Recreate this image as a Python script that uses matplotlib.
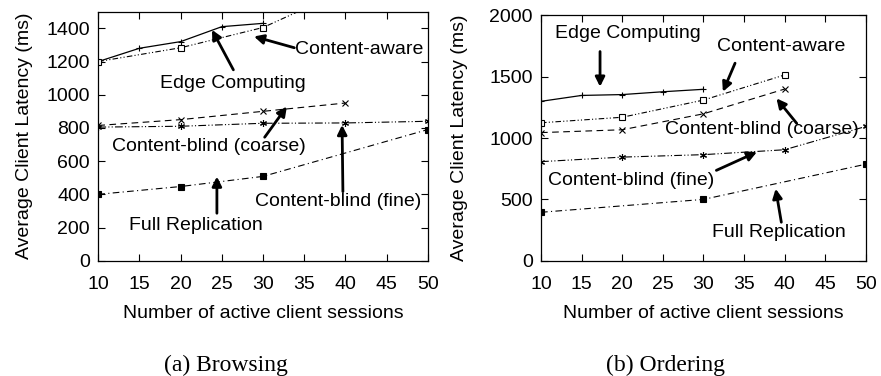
import matplotlib
matplotlib.use("Agg")
import matplotlib.pyplot as plt
import numpy as np

plt.rcParams["font.family"] = ["Liberation Sans", "DejaVu Sans"]

# ---- (a) Browsing ----
browse_edge_x = [10, 15, 20, 25, 30]
browse_edge_y = [1200, 1280, 1320, 1410, 1430]
browse_aware_x = [10, 20, 30, 40]
browse_aware_y = [1200, 1283, 1405, 1630]
browse_coarse_x = [10, 20, 30, 40]
browse_coarse_y = [815, 850, 900, 950]
browse_fine_x = [10, 20, 30, 40, 50]
browse_fine_y = [805, 810, 828, 830, 840]
browse_full_x = [10, 20, 30, 50]
browse_full_y = [400, 447, 508, 790]

# ---- (b) Ordering ----
order_edge_x = [10, 15, 20, 25, 30]
order_edge_y = [1300, 1348, 1355, 1378, 1398]
order_aware_x = [10, 20, 30, 40]
order_aware_y = [1125, 1170, 1310, 1515]
order_coarse_x = [10, 20, 30, 40]
order_coarse_y = [1045, 1068, 1198, 1400]
order_fine_x = [10, 20, 30, 40, 50]
order_fine_y = [808, 845, 865, 905, 1095]
order_full_x = [10, 30, 50]
order_full_y = [395, 500, 787]

x_ticks = [10, 15, 20, 25, 30, 35, 40, 45, 50]

FS = 14
ASTERISK = (6, 2, 0)

styles = {
    "edge": dict(color="black", lw=0.9, ls="-", marker="+", ms=5, mew=0.8),
    "aware": dict(color="black", lw=0.8, ls=(0, (5, 2, 1, 2, 1, 2)), marker="s",
                  ms=4.5, mfc="white", mew=0.8),
    "coarse": dict(color="black", lw=0.8, ls=(0, (6, 4)), marker="x", ms=4.5, mew=0.8),
    "fine": dict(color="black", lw=0.8, ls=(0, (7, 2, 1, 2, 1, 2)), marker=ASTERISK,
                 ms=5, mew=0.8),
    "full": dict(color="black", lw=0.8, ls=(0, (6, 3, 1, 3)), marker="s", ms=4.5,
                 mfc="black", mew=0.8),
}


def style_axes(ax, ylim, yticks):
    ax.set_xlim(10, 50)
    ax.set_ylim(*ylim)
    ax.set_xticks(x_ticks)
    ax.set_yticks(yticks)
    ax.tick_params(direction="in", top=True, right=True, length=5, width=0.8,
                   labelsize=FS)
    ax.tick_params(axis="x", pad=11)
    ax.tick_params(axis="y", pad=6)
    for sp in ax.spines.values():
        sp.set_linewidth(0.9)
    ax.set_xlabel("Number of active client sessions", fontsize=FS, labelpad=9)
    ax.set_ylabel("Average Client Latency (ms)", fontsize=FS)


def label(ax, text, xy, tail, head):
    ax.text(xy[0], xy[1], text, ha="center", va="center", fontsize=FS)
    ax.annotate("", xy=head, xytext=tail,
                arrowprops=dict(arrowstyle="-|>", color="black", lw=2,
                                mutation_scale=14, shrinkA=0, shrinkB=0))


fig = plt.figure(figsize=(8.81, 3.76), dpi=100)
ax1 = fig.add_axes([0.1116, 0.3066, 0.3739, 0.6622])
ax2 = fig.add_axes([0.6141, 0.3066, 0.3686, 0.6522])

ax1.plot(browse_edge_x, browse_edge_y, **styles["edge"])
ax1.plot(browse_aware_x, browse_aware_y, **styles["aware"])
ax1.plot(browse_coarse_x, browse_coarse_y, **styles["coarse"])
ax1.plot(browse_fine_x, browse_fine_y, **styles["fine"])
ax1.plot(browse_full_x, browse_full_y, **styles["full"])
style_axes(ax1, (0, 1500), [0, 200, 400, 600, 800, 1000, 1200, 1400])
ax1.yaxis.set_label_coords(-0.198, 0.5)

label(ax1, "Content-aware", (41.7, 1275), (33.8, 1283), (28.9, 1351))
label(ax1, "Edge Computing", (26.3, 1070), (26.4, 1150), (23.8, 1391))
label(ax1, "Content-blind (coarse)", (23.4, 687), (30.2, 744), (32.9, 929))
label(ax1, "Content-blind (fine)", (39.1, 356), (39.7, 416), (39.6, 818))
label(ax1, "Full Replication", (21.8, 215), (24.4, 286), (24.4, 507))

ax2.plot(order_edge_x, order_edge_y, **styles["edge"])
ax2.plot(order_aware_x, order_aware_y, **styles["aware"])
ax2.plot(order_coarse_x, order_coarse_y, **styles["coarse"])
ax2.plot(order_fine_x, order_fine_y, **styles["fine"])
ax2.plot(order_full_x, order_full_y, **styles["full"])
style_axes(ax2, (0, 2000), [0, 500, 1000, 1500, 2000])
ax2.yaxis.set_label_coords(-0.225, 0.5)

label(ax2, "Edge Computing", (20.65, 1857), (17.27, 1706), (17.27, 1419))
label(ax2, "Content-aware", (39.6, 1747), (33.9, 1611), (32.4, 1378))
label(ax2, "Content-blind (coarse)", (37.2, 1070), (41.5, 1120), (39.0, 1324))
label(ax2, "Content-blind (fine)", (21.06, 655), (31.6, 737), (36.6, 887))
label(ax2, "Full Replication", (39.3, 232), (39.6, 314), (38.9, 587))

fig.text(0.257, 0.029, "(a) Browsing", ha="center", va="center",
         fontsize=17, family=["Liberation Serif", "DejaVu Serif"])
fig.text(0.755, 0.029, "(b) Ordering", ha="center", va="center",
         fontsize=17, family=["Liberation Serif", "DejaVu Serif"])

fig.savefig("out.png", dpi=100)
